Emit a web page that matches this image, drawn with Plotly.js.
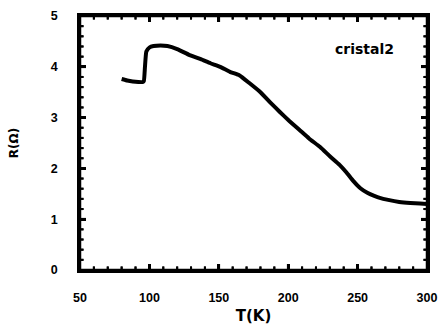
<!DOCTYPE html>
<html>
<head>
<meta charset="utf-8">
<script src="https://cdn.plot.ly/plotly-3.0.1.min.js"></script>
<style>html,body{margin:0;padding:0;background:#fff}#chart{width:438px;height:329px}</style>
</head>
<body>
<div id="chart"></div>
<script>
const temperature = [80, 84, 88, 92, 95, 96, 96.8, 97.8, 100, 103, 108, 113, 120, 129, 137, 144, 151, 158, 165, 172, 180, 187, 194, 201, 208, 215, 223, 230, 237, 242, 247, 252, 257, 262, 266, 272, 280, 288, 295, 300];
const resistance = [3.76, 3.73, 3.71, 3.70, 3.70, 3.72, 4.00, 4.30, 4.38, 4.41, 4.42, 4.41, 4.35, 4.23, 4.15, 4.07, 4.00, 3.90, 3.83, 3.68, 3.50, 3.30, 3.11, 2.93, 2.76, 2.59, 2.42, 2.24, 2.07, 1.92, 1.75, 1.61, 1.52, 1.46, 1.42, 1.38, 1.34, 1.32, 1.31, 1.30];
const xTicks = [50, 100, 150, 200, 250, 300];
const yTicks = [0, 1, 2, 3, 4, 5];
const xMinorStep = 10;
const yMinorStep = 0.2;
const label = 'cristal2';

const FAM = 'DejaVu Sans, Liberation Sans, Arial, sans-serif';
const TFAM = 'Liberation Sans, Arial, sans-serif';
const W = 438, H = 329, M = {l: 80, r: 11, t: 16, b: 59};
const plotW = W - M.l - M.r, plotH = H - M.t - M.b;
const majLen = 6, minLen = 3.5;
const xMin = xTicks[0], xMax = xTicks[xTicks.length - 1];
const yMin = yTicks[0], yMax = yTicks[yTicks.length - 1];

const traces = [{
  x: temperature, y: resistance, type: 'scatter', mode: 'lines',
  line: {color: '#000', width: 4, shape: 'spline', smoothing: 0.4},
  showlegend: false, hoverinfo: 'skip'
}];
const shapes = [{type: 'rect', xref: 'paper', yref: 'paper', x0: 0, x1: 1, y0: 0, y1: 1,
  line: {color: '#000', width: 2.5}, layer: 'above'}];
function seg(x, y, w) {
  traces.push({x: x, y: y, type: 'scatter', mode: 'lines', cliponaxis: false,
    line: {color: '#000', width: w}, showlegend: false, hoverinfo: 'skip'});
}
// inward minor and major ticks on all four sides, placed through the axes' scales
function xTick(v, len, w) {
  const d = len / plotH * (yMax - yMin);
  seg([v, v], [yMin, yMin + d], w);
  seg([v, v], [yMax, yMax - d], w);
  shapes.push({type: 'line', xref: 'x', yref: 'y', x0: v, x1: v, y0: yMin, y1: yMin + d, line: {color: '#000', width: w}});
  shapes.push({type: 'line', xref: 'x', yref: 'y', x0: v, x1: v, y0: yMax, y1: yMax - d, line: {color: '#000', width: w}});
}
function yTick(v, len, w) {
  const d = len / plotW * (xMax - xMin);
  seg([xMin, xMin + d], [v, v], w);
  seg([xMax, xMax - d], [v, v], w);
  shapes.push({type: 'line', xref: 'x', yref: 'y', x0: xMin, x1: xMin + d, y0: v, y1: v, line: {color: '#000', width: w}});
  shapes.push({type: 'line', xref: 'x', yref: 'y', x0: xMax, x1: xMax - d, y0: v, y1: v, line: {color: '#000', width: w}});
}
xTicks.slice(1, -1).forEach(v => xTick(v, majLen, 2.5));
yTicks.slice(1, -1).forEach(v => yTick(v, majLen, 2.5));
for (let i = 1; xMin + i * xMinorStep < xMax; i++) {
  const v = xMin + i * xMinorStep;
  if (!xTicks.includes(v)) xTick(v, minLen, 2);
}
for (let i = 1; yMin + i * yMinorStep < yMax - 1e-9; i++) {
  const v = +(yMin + i * yMinorStep).toFixed(3);
  if (!yTicks.includes(v)) yTick(v, minLen, 2);
}

const axisBase = {
  showgrid: false, zeroline: false, showline: true, linecolor: '#000', linewidth: 2.5, mirror: 'ticks',
  ticks: 'inside', ticklen: majLen, tickwidth: 2.5, tickcolor: '#000', ticklabeloverflow: 'allow'
};

Plotly.newPlot('chart', traces, {
  width: W, height: H,
  margin: M,
  paper_bgcolor: '#fff', plot_bgcolor: '#fff',
  xaxis: Object.assign({}, axisBase, {
    range: [xMin, xMax], tickvals: xTicks, ticktext: xTicks.map(String),
    ticklabelstandoff: 14,
    tickfont: {family: TFAM, size: 12.5, color: '#000', weight: 'bold'},
    title: {text: 'T(K)', font: {family: FAM, size: 15, color: '#000', weight: 'bold'}, standoff: 7}
  }),
  yaxis: Object.assign({}, axisBase, {
    range: [yMin, yMax], tickvals: yTicks, ticktext: yTicks.map(String),
    ticklabelstandoff: 17,
    tickfont: {family: TFAM, size: 12.5, color: '#000', weight: 'bold'},
    title: {text: 'R(Ω)', font: {family: FAM, size: 12, color: '#000', weight: 'bold'}, standoff: 30}
  }),
  shapes: shapes,
  annotations: [{
    text: label, xref: 'paper', yref: 'paper', x: 0.91, y: 0.87, xanchor: 'right', yanchor: 'middle',
    showarrow: false, font: {family: FAM, size: 14, color: '#000', weight: 'bold'}
  }]
}, {displayModeBar: false});
</script>
</body>
</html>
